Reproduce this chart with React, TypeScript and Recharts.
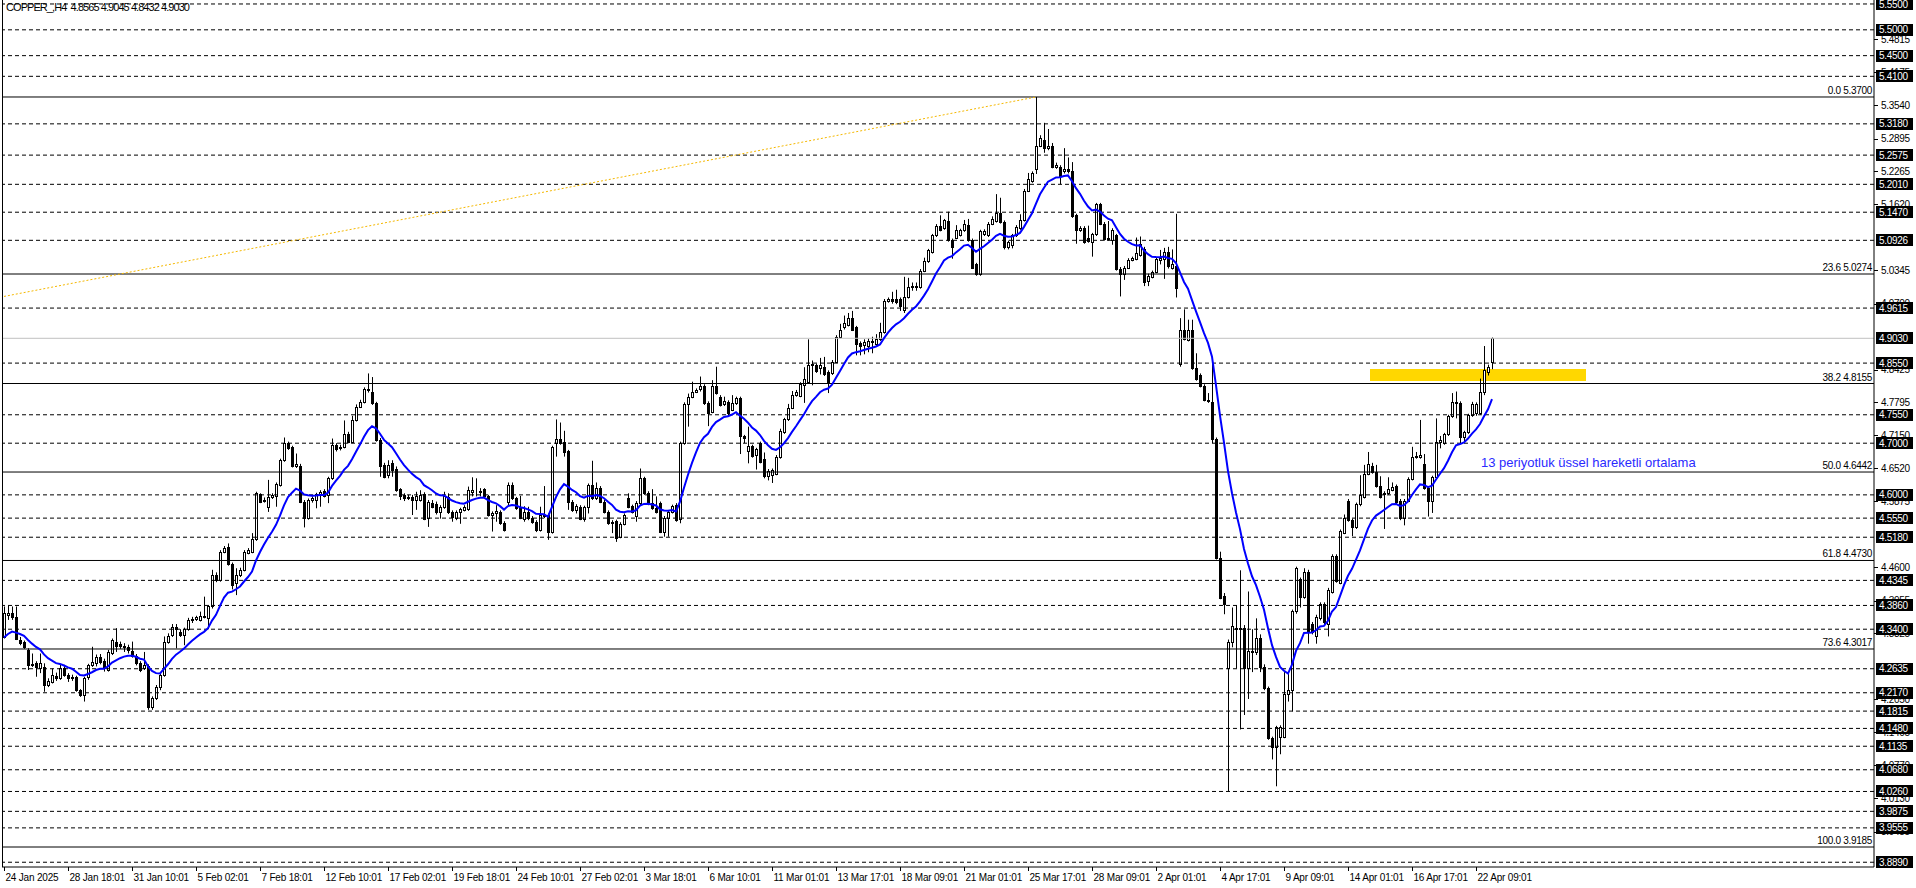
import React from 'react';
import { ComposedChart, Bar, Line, XAxis, YAxis, ReferenceLine, ReferenceArea } from 'recharts';

const W = 1916;
const H = 888;
const PLOT_R = 1874;
const PLOT_B = 867;
const FONT = '"Liberation Sans", Arial, sans-serif';

// one H4 candle per slot, a date label every 16 candles
const dateLabels = [
  '24 Jan 2025', '28 Jan 18:01', '31 Jan 10:01', '5 Feb 02:01', '7 Feb 18:01', '12 Feb 10:01',
  '17 Feb 02:01', '19 Feb 18:01', '24 Feb 10:01', '27 Feb 02:01', '3 Mar 18:01', '6 Mar 10:01',
  '11 Mar 01:01', '13 Mar 17:01', '18 Mar 09:01', '21 Mar 01:01', '25 Mar 17:01', '28 Mar 09:01',
  '2 Apr 01:01', '4 Apr 17:01', '9 Apr 09:01', '14 Apr 01:01', '16 Apr 17:01', '22 Apr 09:01',
];
const barsPerLabel = 16;
const totalSlots = 468;

const openP = [
  4.325, 4.367, 4.372, 4.364, 4.320, 4.316, 4.300, 4.272, 4.275, 4.264,
  4.267, 4.232, 4.238, 4.249, 4.245, 4.264, 4.251, 4.245, 4.247, 4.222,
  4.213, 4.248, 4.271, 4.275, 4.287, 4.279, 4.261, 4.293, 4.316, 4.311,
  4.308, 4.305, 4.297, 4.288, 4.275, 4.264, 4.268, 4.190, 4.206, 4.229,
  4.251, 4.316, 4.329, 4.345, 4.335, 4.329, 4.340, 4.358, 4.360, 4.358,
  4.365, 4.361, 4.384, 4.445, 4.435, 4.490, 4.500, 4.466, 4.429, 4.445,
  4.455, 4.488, 4.490, 4.514, 4.602, 4.588, 4.577, 4.596, 4.597, 4.619,
  4.667, 4.700, 4.692, 4.656, 4.656, 4.587, 4.555, 4.590, 4.591, 4.600,
  4.608, 4.600, 4.632, 4.696, 4.690, 4.693, 4.718, 4.703, 4.745, 4.771,
  4.780, 4.804, 4.800, 4.777, 4.707, 4.658, 4.638, 4.661, 4.651, 4.611,
  4.600, 4.593, 4.596, 4.590, 4.590, 4.602, 4.556, 4.585, 4.583, 4.566,
  4.576, 4.596, 4.567, 4.556, 4.566, 4.571, 4.572, 4.606, 4.610, 4.608,
  4.611, 4.597, 4.561, 4.565, 4.567, 4.546, 4.587, 4.619, 4.593, 4.576,
  4.554, 4.566, 4.556, 4.548, 4.532, 4.561, 4.561, 4.529, 4.700, 4.708,
  4.703, 4.684, 4.587, 4.571, 4.577, 4.554, 4.576, 4.619, 4.593, 4.614,
  4.587, 4.567, 4.548, 4.549, 4.519, 4.544, 4.593, 4.578, 4.560, 4.584,
  4.632, 4.604, 4.585, 4.574, 4.584, 4.529, 4.556, 4.567, 4.580, 4.554,
  4.700, 4.776, 4.790, 4.800, 4.804, 4.811, 4.778, 4.761, 4.811, 4.790,
  4.776, 4.780, 4.765, 4.777, 4.787, 4.713, 4.685, 4.694, 4.677, 4.700,
  4.669, 4.637, 4.638, 4.641, 4.673, 4.721, 4.746, 4.769, 4.794, 4.792,
  4.812, 4.819, 4.851, 4.851, 4.845, 4.848, 4.838, 4.835, 4.858, 4.906,
  4.924, 4.929, 4.943, 4.924, 4.894, 4.890, 4.888, 4.895, 4.892, 4.901,
  4.915, 4.975, 4.979, 4.979, 4.979, 4.958, 4.983, 5.002, 5.004, 5.002,
  5.034, 5.052, 5.070, 5.102, 5.121, 5.116, 5.130, 5.093, 5.098, 5.103,
  5.112, 5.122, 5.093, 5.046, 5.027, 5.104, 5.102, 5.125, 5.130, 5.146,
  5.128, 5.080, 5.084, 5.102, 5.116, 5.132, 5.189, 5.207, 5.230, 5.276,
  5.287, 5.271, 5.276, 5.235, 5.235, 5.226, 5.230, 5.226, 5.141, 5.113,
  5.117, 5.098, 5.089, 5.104, 5.162, 5.125, 5.095, 5.093, 5.102, 5.038,
  5.027, 5.040, 5.055, 5.057, 5.064, 5.075, 5.013, 5.022, 5.032, 5.054,
  5.056, 5.070, 5.040, 5.042, 4.853, 4.920, 4.900, 4.920, 4.845, 4.832,
  4.811, 4.784, 4.779, 4.708, 4.478, 4.405, 4.264, 4.316, 4.340, 4.343,
  4.343, 4.264, 4.298, 4.295, 4.323, 4.267, 4.226, 4.129, 4.112, 4.132,
  4.132, 4.215, 4.222, 4.375, 4.437, 4.402, 4.451, 4.350, 4.326, 4.361,
  4.389, 4.350, 4.412, 4.482, 4.430, 4.527, 4.589, 4.551, 4.537, 4.582,
  4.596, 4.641, 4.655, 4.645, 4.617, 4.601, 4.603, 4.610, 4.617, 4.589,
  4.555, 4.589, 4.631, 4.674, 4.674, 4.660, 4.613, 4.589, 4.634, 4.703,
  4.700, 4.717, 4.752, 4.780, 4.778, 4.712, 4.721, 4.754, 4.758, 4.758,
  4.800, 4.838, 4.8565,
];

const highP = [
  4.384, 4.385, 4.384, 4.384, 4.325, 4.318, 4.303, 4.293, 4.278, 4.293,
  4.274, 4.245, 4.264, 4.256, 4.271, 4.271, 4.255, 4.252, 4.250, 4.224,
  4.248, 4.273, 4.306, 4.291, 4.292, 4.283, 4.300, 4.322, 4.342, 4.316,
  4.313, 4.310, 4.316, 4.292, 4.278, 4.296, 4.272, 4.210, 4.232, 4.255,
  4.326, 4.332, 4.350, 4.350, 4.340, 4.343, 4.362, 4.364, 4.366, 4.374,
  4.403, 4.387, 4.455, 4.450, 4.493, 4.501, 4.506, 4.469, 4.458, 4.459,
  4.493, 4.497, 4.526, 4.606, 4.603, 4.595, 4.629, 4.603, 4.624, 4.670,
  4.711, 4.703, 4.695, 4.680, 4.660, 4.590, 4.593, 4.597, 4.604, 4.609,
  4.611, 4.635, 4.709, 4.700, 4.697, 4.744, 4.722, 4.753, 4.775, 4.784,
  4.808, 4.835, 4.828, 4.780, 4.710, 4.662, 4.667, 4.667, 4.655, 4.613,
  4.603, 4.600, 4.600, 4.606, 4.609, 4.605, 4.590, 4.590, 4.587, 4.580,
  4.606, 4.603, 4.570, 4.570, 4.575, 4.580, 4.616, 4.634, 4.632, 4.613,
  4.613, 4.600, 4.568, 4.580, 4.570, 4.549, 4.624, 4.624, 4.596, 4.598,
  4.578, 4.577, 4.559, 4.551, 4.577, 4.617, 4.564, 4.695, 4.746, 4.740,
  4.724, 4.687, 4.590, 4.582, 4.580, 4.579, 4.622, 4.666, 4.624, 4.617,
  4.590, 4.570, 4.551, 4.552, 4.547, 4.564, 4.603, 4.581, 4.588, 4.651,
  4.635, 4.607, 4.611, 4.597, 4.587, 4.559, 4.570, 4.581, 4.584, 4.703,
  4.779, 4.796, 4.819, 4.806, 4.829, 4.814, 4.781, 4.822, 4.848, 4.793,
  4.790, 4.783, 4.793, 4.790, 4.790, 4.716, 4.732, 4.697, 4.691, 4.703,
  4.682, 4.650, 4.651, 4.677, 4.728, 4.749, 4.776, 4.801, 4.803, 4.818,
  4.847, 4.901, 4.860, 4.854, 4.865, 4.867, 4.841, 4.861, 4.909, 4.931,
  4.947, 4.952, 4.956, 4.927, 4.897, 4.901, 4.903, 4.906, 4.911, 4.933,
  4.979, 4.982, 4.993, 4.997, 4.982, 5.022, 5.020, 5.011, 5.011, 5.037,
  5.059, 5.076, 5.105, 5.124, 5.141, 5.134, 5.148, 5.096, 5.122, 5.115,
  5.132, 5.134, 5.096, 5.049, 5.113, 5.114, 5.128, 5.139, 5.182, 5.175,
  5.131, 5.092, 5.105, 5.122, 5.143, 5.192, 5.223, 5.226, 5.370, 5.296,
  5.320, 5.308, 5.281, 5.243, 5.238, 5.271, 5.253, 5.244, 5.144, 5.120,
  5.120, 5.121, 5.107, 5.165, 5.165, 5.128, 5.130, 5.116, 5.105, 5.041,
  5.043, 5.058, 5.061, 5.098, 5.100, 5.080, 5.028, 5.034, 5.059, 5.074,
  5.078, 5.080, 5.075, 5.144, 4.942, 4.959, 4.939, 4.939, 4.874, 4.835,
  4.814, 4.797, 4.856, 4.711, 4.490, 4.410, 4.320, 4.382, 4.386, 4.454,
  4.348, 4.413, 4.340, 4.361, 4.330, 4.272, 4.229, 4.132, 4.153, 4.154,
  4.257, 4.257, 4.378, 4.461, 4.440, 4.458, 4.455, 4.354, 4.368, 4.392,
  4.392, 4.420, 4.485, 4.485, 4.533, 4.562, 4.592, 4.554, 4.585, 4.638,
  4.658, 4.683, 4.662, 4.658, 4.636, 4.607, 4.634, 4.624, 4.620, 4.592,
  4.592, 4.634, 4.693, 4.683, 4.745, 4.679, 4.616, 4.637, 4.748, 4.714,
  4.720, 4.755, 4.797, 4.800, 4.781, 4.724, 4.757, 4.780, 4.779, 4.825,
  4.888, 4.852, 4.9045,
];

const lowP = [
  4.322, 4.358, 4.358, 4.319, 4.309, 4.302, 4.261, 4.267, 4.248, 4.255,
  4.219, 4.228, 4.235, 4.240, 4.242, 4.248, 4.238, 4.240, 4.219, 4.209,
  4.200, 4.242, 4.267, 4.268, 4.272, 4.258, 4.258, 4.290, 4.296, 4.302,
  4.296, 4.293, 4.285, 4.270, 4.257, 4.261, 4.184, 4.184, 4.203, 4.222,
  4.248, 4.312, 4.325, 4.303, 4.325, 4.309, 4.337, 4.352, 4.356, 4.355,
  4.361, 4.340, 4.380, 4.431, 4.432, 4.487, 4.463, 4.417, 4.406, 4.441,
  4.452, 4.485, 4.487, 4.511, 4.584, 4.585, 4.567, 4.592, 4.577, 4.616,
  4.664, 4.687, 4.653, 4.652, 4.584, 4.537, 4.552, 4.585, 4.574, 4.577,
  4.595, 4.584, 4.629, 4.684, 4.686, 4.690, 4.700, 4.700, 4.742, 4.768,
  4.777, 4.798, 4.774, 4.703, 4.635, 4.632, 4.632, 4.635, 4.606, 4.590,
  4.588, 4.590, 4.561, 4.571, 4.587, 4.551, 4.538, 4.574, 4.562, 4.554,
  4.573, 4.563, 4.548, 4.551, 4.544, 4.568, 4.569, 4.597, 4.597, 4.597,
  4.594, 4.558, 4.529, 4.548, 4.542, 4.529, 4.580, 4.590, 4.571, 4.553,
  4.548, 4.551, 4.544, 4.528, 4.529, 4.555, 4.513, 4.525, 4.674, 4.697,
  4.674, 4.571, 4.567, 4.564, 4.551, 4.548, 4.564, 4.590, 4.590, 4.584,
  4.564, 4.542, 4.526, 4.509, 4.516, 4.541, 4.574, 4.564, 4.548, 4.580,
  4.600, 4.580, 4.571, 4.564, 4.526, 4.519, 4.519, 4.564, 4.548, 4.545,
  4.697, 4.732, 4.787, 4.797, 4.800, 4.774, 4.733, 4.758, 4.794, 4.771,
  4.772, 4.751, 4.762, 4.774, 4.679, 4.700, 4.661, 4.672, 4.649, 4.661,
  4.632, 4.628, 4.623, 4.638, 4.670, 4.718, 4.743, 4.766, 4.790, 4.789,
  4.778, 4.816, 4.812, 4.836, 4.833, 4.830, 4.797, 4.832, 4.855, 4.903,
  4.920, 4.926, 4.917, 4.870, 4.870, 4.872, 4.876, 4.874, 4.888, 4.898,
  4.912, 4.972, 4.970, 4.969, 4.956, 4.952, 4.980, 4.995, 4.995, 4.999,
  5.031, 5.049, 5.067, 5.099, 5.110, 5.113, 5.090, 5.057, 5.095, 5.100,
  5.109, 5.090, 5.037, 5.024, 5.024, 5.101, 5.099, 5.122, 5.127, 5.125,
  5.075, 5.075, 5.077, 5.099, 5.113, 5.129, 5.186, 5.204, 5.221, 5.273,
  5.262, 5.267, 5.232, 5.231, 5.201, 5.222, 5.222, 5.136, 5.086, 5.109,
  5.086, 5.088, 5.061, 5.101, 5.122, 5.092, 5.092, 5.084, 5.034, 4.984,
  5.016, 5.037, 5.052, 5.054, 5.061, 5.004, 5.004, 5.019, 5.029, 5.046,
  5.018, 5.038, 5.036, 4.982, 4.848, 4.899, 4.897, 4.842, 4.821, 4.808,
  4.781, 4.778, 4.700, 4.475, 4.398, 4.369, 4.026, 4.305, 4.264, 4.146,
  4.174, 4.205, 4.257, 4.290, 4.257, 4.222, 4.126, 4.088, 4.036, 4.098,
  4.129, 4.200, 4.181, 4.370, 4.382, 4.399, 4.312, 4.330, 4.312, 4.357,
  4.350, 4.326, 4.409, 4.430, 4.427, 4.524, 4.548, 4.520, 4.534, 4.578,
  4.593, 4.638, 4.641, 4.614, 4.593, 4.534, 4.600, 4.607, 4.582, 4.551,
  4.541, 4.586, 4.628, 4.670, 4.670, 4.610, 4.558, 4.565, 4.631, 4.690,
  4.697, 4.714, 4.749, 4.748, 4.700, 4.700, 4.718, 4.751, 4.753, 4.755,
  4.793, 4.831, 4.8432,
];

const closeP = [
  4.371, 4.372, 4.363, 4.322, 4.314, 4.306, 4.271, 4.270, 4.267, 4.274,
  4.232, 4.240, 4.251, 4.245, 4.264, 4.251, 4.245, 4.248, 4.222, 4.213,
  4.245, 4.271, 4.277, 4.287, 4.277, 4.264, 4.296, 4.319, 4.307, 4.308,
  4.305, 4.300, 4.288, 4.274, 4.261, 4.271, 4.190, 4.206, 4.229, 4.251,
  4.316, 4.326, 4.345, 4.340, 4.329, 4.340, 4.358, 4.360, 4.363, 4.366,
  4.364, 4.384, 4.445, 4.435, 4.490, 4.498, 4.466, 4.425, 4.445, 4.455,
  4.490, 4.493, 4.514, 4.603, 4.587, 4.591, 4.596, 4.599, 4.621, 4.667,
  4.700, 4.690, 4.656, 4.659, 4.587, 4.555, 4.590, 4.593, 4.601, 4.606,
  4.598, 4.632, 4.696, 4.688, 4.693, 4.718, 4.703, 4.745, 4.771, 4.780,
  4.804, 4.802, 4.777, 4.706, 4.655, 4.635, 4.658, 4.649, 4.609, 4.597,
  4.593, 4.596, 4.591, 4.597, 4.600, 4.554, 4.587, 4.577, 4.566, 4.577,
  4.598, 4.566, 4.558, 4.567, 4.572, 4.577, 4.609, 4.610, 4.609, 4.605,
  4.597, 4.561, 4.564, 4.568, 4.545, 4.532, 4.619, 4.593, 4.574, 4.556,
  4.566, 4.556, 4.548, 4.532, 4.561, 4.559, 4.529, 4.692, 4.708, 4.701,
  4.682, 4.587, 4.571, 4.578, 4.553, 4.576, 4.619, 4.593, 4.614, 4.587,
  4.567, 4.545, 4.545, 4.516, 4.544, 4.561, 4.577, 4.567, 4.584, 4.632,
  4.603, 4.584, 4.574, 4.567, 4.529, 4.556, 4.567, 4.578, 4.551, 4.700,
  4.776, 4.790, 4.800, 4.803, 4.811, 4.777, 4.759, 4.811, 4.797, 4.774,
  4.782, 4.759, 4.777, 4.787, 4.713, 4.711, 4.694, 4.675, 4.688, 4.664,
  4.637, 4.646, 4.648, 4.673, 4.724, 4.746, 4.769, 4.794, 4.799, 4.815,
  4.824, 4.851, 4.853, 4.839, 4.852, 4.833, 4.819, 4.858, 4.906, 4.920,
  4.933, 4.943, 4.920, 4.891, 4.888, 4.895, 4.897, 4.898, 4.901, 4.915,
  4.976, 4.979, 4.976, 4.973, 4.965, 4.983, 5.002, 5.004, 5.003, 5.034,
  5.052, 5.073, 5.102, 5.121, 5.113, 5.132, 5.093, 5.080, 5.112, 5.112,
  5.125, 5.093, 5.040, 5.027, 5.110, 5.111, 5.125, 5.133, 5.146, 5.128,
  5.080, 5.089, 5.102, 5.119, 5.132, 5.189, 5.212, 5.223, 5.276, 5.290,
  5.271, 5.276, 5.235, 5.239, 5.217, 5.230, 5.226, 5.139, 5.113, 5.117,
  5.089, 5.091, 5.104, 5.162, 5.125, 5.095, 5.098, 5.113, 5.037, 5.027,
  5.040, 5.055, 5.058, 5.068, 5.085, 5.011, 5.024, 5.031, 5.056, 5.058,
  5.070, 5.042, 5.046, 5.001, 4.920, 4.902, 4.920, 4.845, 4.824, 4.811,
  4.784, 4.781, 4.708, 4.478, 4.401, 4.388, 4.316, 4.346, 4.343, 4.340,
  4.264, 4.298, 4.295, 4.323, 4.267, 4.226, 4.129, 4.112, 4.150, 4.150,
  4.215, 4.222, 4.375, 4.458, 4.402, 4.451, 4.337, 4.335, 4.364, 4.389,
  4.354, 4.416, 4.482, 4.434, 4.530, 4.555, 4.551, 4.537, 4.582, 4.600,
  4.641, 4.660, 4.645, 4.617, 4.596, 4.604, 4.611, 4.615, 4.586, 4.555,
  4.589, 4.631, 4.674, 4.676, 4.678, 4.613, 4.589, 4.634, 4.703, 4.707,
  4.717, 4.752, 4.780, 4.778, 4.712, 4.721, 4.754, 4.775, 4.776, 4.800,
  4.842, 4.847, 4.9030,
];

// right price scale: plain ticks (partly covered by the level boxes, as in the terminal)
const priceTicks = [
  5.4815, 5.4175, 5.354, 5.2895, 5.2265, 5.162, 5.0345, 4.97,
  4.8425, 4.7795, 4.715, 4.652, 4.5875, 4.46, 4.3955, 4.3325, 4.205,
  4.1405, 4.077, 4.013, 3.9485,
];
const levels = [
  5.55, 5.5, 5.45, 5.41, 5.318, 5.2575, 5.201, 5.147, 5.0926, 4.9615, 4.855, 4.755,
  4.7, 4.6, 4.555, 4.518, 4.4345, 4.386, 4.34, 4.2635, 4.217, 4.1815, 4.148, 4.1135,
  4.068, 4.026, 3.9875, 3.9555, 3.889,
];
const bidPrice = 4.903;
const fibNames = ['0.0', '23.6', '38.2', '50.0', '61.8', '73.6', '100.0'];
const fibValues = [5.37, 5.0274, 4.8155, 4.6442, 4.473, 4.3017, 3.9185];
const yDomain: [number, number] = [3.8798, 5.5577];
const zone = { x1: 342, x2: 395, y1: 4.8204, y2: 4.8436 };
const trend = [{ x: 0, y: 4.984 }, { x: 258, y: 5.37 }];
const emaPeriod = 13;
const emaSeed = 4.316;
const title = 'COPPER_,H4  4.8565 4.9045 4.8432 4.9030';
const note = '13 periyotluk üssel hareketli ortalama';

const alpha = 2 / (emaPeriod + 1);
let emaPrev = emaSeed;
const emaP = closeP.map((c) => (emaPrev = emaPrev + alpha * (c - emaPrev)));

const rows = Array.from({ length: totalSlots }, (_, i) =>
  i < closeP.length
    ? { i, o: openP[i], h: highP[i], l: lowP[i], c: closeP[i], range: [lowP[i], highP[i]], ema: emaP[i] }
    : { i }
);

const levelSet = new Set(levels);

function Candle(props: any) {
  const { x, y, width, height, payload } = props;
  if (!payload || payload.o == null || height == null) return null;
  const { o, h, l, c } = payload;
  const span = h - l || 1;
  const py = (v: number) => y + ((h - v) / span) * height;
  const cx = Math.floor(x + width / 2) + 0.5;
  const top = Math.round(py(Math.max(o, c)));
  const bot = Math.round(py(Math.min(o, c)));
  const up = c >= o;
  return (
    <g>
      <line x1={cx} x2={cx} y1={y} y2={y + height} stroke="#000" strokeWidth={1} />
      <rect x={cx - 1} y={top + 0.5} width={2} height={Math.max(0, bot - top)} fill={up ? '#fff' : '#000'} stroke="#000" strokeWidth={1} />
    </g>
  );
}

function PriceTick(props: any) {
  const { y, payload } = props;
  const v = payload.value as number;
  const yy = Math.round(y) + 0.5;
  if (levelSet.has(v) || v === bidPrice) {
    return (
      <g>
        <rect x={PLOT_R + 2} y={Math.round(y) - 6} width={37} height={12} fill="#000" />
        <text x={PLOT_R + 5} y={y} dy="0.36em" fill="#fff" fontSize={10} fontFamily={FONT} letterSpacing={-0.3}>
          {v.toFixed(4)}
        </text>
      </g>
    );
  }
  return (
    <g>
      <line x1={PLOT_R} x2={PLOT_R + 4} y1={yy} y2={yy} stroke="#000" />
      <text x={PLOT_R + 7} y={y} dy="0.36em" fill="#000" fontSize={10} fontFamily={FONT} letterSpacing={-0.3}>
        {v.toFixed(4)}
      </text>
    </g>
  );
}

function DateTick(props: any) {
  const { x, payload } = props;
  const label = dateLabels[payload.value / barsPerLabel];
  const xx = Math.round(x) + 0.5;
  return (
    <g>
      <line x1={xx} x2={xx} y1={PLOT_B} y2={PLOT_B + 4} stroke="#000" />
      <text x={xx + 1} y={PLOT_B + 14} fill="#000" fontSize={10} fontFamily={FONT} letterSpacing={-0.2}>
        {label}
      </text>
    </g>
  );
}

const fibLabel = (text: string) => (props: any) => {
  const vb = props.viewBox || {};
  return (
    <text x={(vb.x || 0) + (vb.width || 0) - 2} y={(vb.y || 0) - 3} textAnchor="end" fill="#000" fontSize={10} fontFamily={FONT} letterSpacing={-0.3}>
      {text}
    </text>
  );
};

export default function App() {
  const tickIdx = dateLabels.map((_, k) => k * barsPerLabel);
  const allTicks = [...priceTicks, ...levels, bidPrice];
  return (
    <div style={{ position: 'absolute', left: 0, top: 0, width: W, height: H, background: '#fff', overflow: 'hidden' }}>
      <ComposedChart width={W} height={H} data={rows} margin={{ top: 0, right: 0, bottom: 0, left: 2 }}>
        <XAxis
          dataKey="i"
          type="category"
          ticks={tickIdx}
          interval={0}
          tick={<DateTick />}
          tickLine={false}
          axisLine={{ stroke: '#000' }}
          height={21}
        />
        <YAxis
          orientation="right"
          type="number"
          domain={yDomain}
          allowDataOverflow
          ticks={allTicks}
          interval={0}
          tick={<PriceTick />}
          tickLine={false}
          axisLine={{ stroke: '#000' }}
          width={42}
        />
        <ReferenceArea x1={zone.x1} x2={zone.x2} y1={zone.y1} y2={zone.y2} fill="#ffd700" fillOpacity={1} stroke="none" />
        {levels.map((v) => (
          <ReferenceLine key={'l' + v} y={v} stroke="#000" strokeDasharray="4 3" />
        ))}
        <ReferenceLine y={bidPrice} stroke="#c0c0c0" />
        {fibValues.map((v, k) => (
          <ReferenceLine key={'f' + v} y={v} stroke="#000" label={fibLabel(fibNames[k] + ' ' + v.toFixed(4))} />
        ))}
        <ReferenceLine segment={trend} stroke="#f5b800" strokeDasharray="2 2" />
        <Bar dataKey="range" barSize={3} shape={(p: any) => <Candle {...p} />} isAnimationActive={false} />
        <Line dataKey="ema" stroke="#0000ff" strokeWidth={2} dot={false} activeDot={false} isAnimationActive={false} />
      </ComposedChart>
      <div style={{ position: 'absolute', left: 2, top: 0, width: 1, height: PLOT_B, background: '#000' }} />
      <svg width={W} height={H} style={{ position: 'absolute', left: 0, top: 0, pointerEvents: 'none' }}>
        <text x={6} y={11} fill="#000" fontSize={11} fontFamily={FONT} textLength={184} lengthAdjust="spacing" style={{ whiteSpace: 'pre' }}>
          {title}
        </text>
        <text x={1481} y={467} fill="#2a2aff" fontSize={13} fontFamily={FONT}>
          {note}
        </text>
      </svg>
    </div>
  );
}
